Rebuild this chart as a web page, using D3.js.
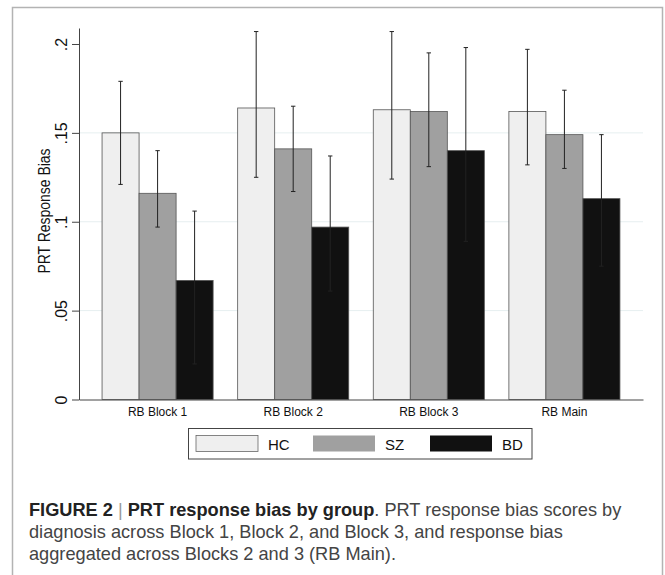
<!DOCTYPE html>
<html>
<head>
<meta charset="utf-8">
<script src="https://cdn.jsdelivr.net/npm/d3@7"></script>
<style>
  body { margin: 0; background: #fff; }
  svg { display: block; font-family: "Liberation Sans", Arial, sans-serif; }
</style>
</head>
<body>
<div id="chart"></div>
<script>
// Data
const groups = ["RB Block 1", "RB Block 2", "RB Block 3", "RB Main"];
const seriesNames = ["HC", "SZ", "BD"];

const hcMean = [0.150, 0.164, 0.163, 0.162];
const hcLow  = [0.121, 0.125, 0.124, 0.132];
const hcHigh = [0.179, 0.207, 0.207, 0.197];

const szMean = [0.116, 0.141, 0.162, 0.149];
const szLow  = [0.097, 0.117, 0.131, 0.130];
const szHigh = [0.140, 0.165, 0.195, 0.174];

const bdMean = [0.067, 0.097, 0.140, 0.113];
const bdLow  = [0.020, 0.061, 0.089, 0.075];
const bdHigh = [0.106, 0.137, 0.198, 0.149];

const yTicks = [0, 0.05, 0.1, 0.15, 0.2];
const yTickLabels = ["0", ".05", ".1", ".15", ".2"];

const captionLines = [
    [{t: "FIGURE 2", b: true}, {t: " | ", sep: true}, {t: "PRT response bias by group", b: true}, {t: ". PRT response bias scores by"}],
    [{t: "diagnosis across Block 1, Block 2, and Block 3, and response bias"}],
    [{t: "aggregated across Blocks 2 and 3 (RB Main)."}]
];

// build a flat table for drawing
const rows = [];
groups.forEach((g, i) => {
    rows.push({ group: g, series: "HC", mean: hcMean[i], lo: hcLow[i], hi: hcHigh[i] });
    rows.push({ group: g, series: "SZ", mean: szMean[i], lo: szLow[i], hi: szHigh[i] });
    rows.push({ group: g, series: "BD", mean: bdMean[i], lo: bdLow[i], hi: bdHigh[i] });
});

const svg = d3.select("#chart").append("svg")
    .attr("width", 665)
    .attr("height", 575);

// figure frame (open at the bottom, like the cropped figure)
svg.append("path")
    .attr("d", "M12.5,580 V7.5 H662.5 V580")
    .attr("fill", "none")
    .attr("stroke", "#b3b3b3")
    .attr("stroke-width", 1.5);

// Scales
const x0 = d3.scaleBand()
    .domain(groups)
    .range([79, 643])
    .paddingInner(0.181)
    .paddingOuter(0.17);

const x1 = d3.scaleBand()
    .domain(seriesNames)
    .range([0, x0.bandwidth()])
    .padding(0);

const y = d3.scaleLinear()
    .domain([0, 0.209])
    .range([399.5, 28]);

const color = d3.scaleOrdinal()
    .domain(seriesNames)
    .range(["#efefef", "#a0a0a0", "#111111"]);

// gridlines
svg.append("g")
    .selectAll("line")
    .data(yTicks.filter(d => d > 0 && d < 0.2))
    .enter()
    .append("line")
    .attr("x1", 79)
    .attr("x2", 643)
    .attr("y1", d => y(d))
    .attr("y2", d => y(d))
    .attr("stroke", "#e6eff0")
    .attr("stroke-width", 1);

// Bars
svg.append("g")
    .selectAll("rect")
    .data(rows)
    .enter()
    .append("rect")
    .attr("x", d => x0(d.group) + x1(d.series))
    .attr("y", d => y(d.mean))
    .attr("width", x1.bandwidth())
    .attr("height", d => y(0) - y(d.mean))
    .attr("fill", d => color(d.series))
    .attr("stroke", "#555")
    .attr("stroke-width", 0.8);

// Error bars
const errG = svg.append("g")
    .attr("stroke", "#222")
    .attr("stroke-width", 1);

rows.forEach(d => {
    const cx = x0(d.group) + x1(d.series) + x1.bandwidth() / 2;
    errG.append("line")
        .attr("x1", cx).attr("x2", cx)
        .attr("y1", y(d.lo)).attr("y2", y(d.hi));
    [d.lo, d.hi].forEach(v => {
        errG.append("line")
            .attr("x1", cx - 2.2).attr("x2", cx + 2.2)
            .attr("y1", y(v)).attr("y2", y(v));
    });
});

// Y axis
const yAxis = svg.append("g")
    .attr("transform", "translate(79,0)")
    .call(d3.axisLeft(y)
        .tickValues(yTicks)
        .tickFormat((d, i) => yTickLabels[i])
        .tickSize(7)
        .tickSizeOuter(0));

yAxis.select(".domain").attr("stroke", "#444");
yAxis.selectAll(".tick line").attr("stroke", "#444");
yAxis.selectAll(".tick text")
    .attr("transform", "rotate(-90)")
    .attr("x", 0)
    .attr("y", -12.5)
    .attr("dy", 0)
    .attr("text-anchor", "middle")
    .attr("fill", "#111")
    .style("font-family", "'Liberation Sans', Arial, sans-serif")
    .style("font-size", "16px");

svg.append("text")
    .attr("transform", "translate(50,211) rotate(-90)")
    .attr("text-anchor", "middle")
    .attr("fill", "#111")
    .attr("textLength", 125)
    .attr("lengthAdjust", "spacingAndGlyphs")
    .style("font-size", "16.5px")
    .text("PRT Response Bias");

// X axis
const xAxis = svg.append("g")
    .attr("transform", "translate(0,399.5)")
    .call(d3.axisBottom(x0)
        .tickSize(0)
        .tickSizeOuter(0)
        .tickPadding(8));

xAxis.select(".domain").attr("stroke", "#444");
xAxis.selectAll(".tick text")
    .attr("fill", "#111")
    .style("font-family", "'Liberation Sans', Arial, sans-serif")
    .style("font-size", "12px");

// Legend
const legend = svg.append("g");

legend.append("rect")
    .attr("x", 188.5)
    .attr("y", 428.5)
    .attr("width", 343.5)
    .attr("height", 30.5)
    .attr("fill", "#fff")
    .attr("stroke", "#444")
    .attr("stroke-width", 1);

seriesNames.forEach((s, i) => {
    const lx = 196 + i * 117;
    legend.append("rect")
        .attr("x", lx)
        .attr("y", 435.5)
        .attr("width", 62)
        .attr("height", 16)
        .attr("fill", color(s))
        .attr("stroke", i === 0 ? "#666" : "none")
        .attr("stroke-width", 0.8);

    legend.append("text")
        .attr("x", lx + 72)
        .attr("y", 449.5)
        .attr("fill", "#111")
        .style("font-size", "15px")
        .text(s);
});

// Caption
captionLines.forEach((line, i) => {
    const t = svg.append("text")
        .attr("x", 29)
        .attr("y", 516 + i * 22)
        .style("font-size", "18.2px")
        .attr("fill", "#444");
    line.forEach(part => {
        t.append("tspan")
            .attr("font-weight", part.b ? "bold" : null)
            .attr("fill", part.b ? "#222" : (part.sep ? "#999" : "#444"))
            .text(part.t);
    });
});
</script>
</body>
</html>
